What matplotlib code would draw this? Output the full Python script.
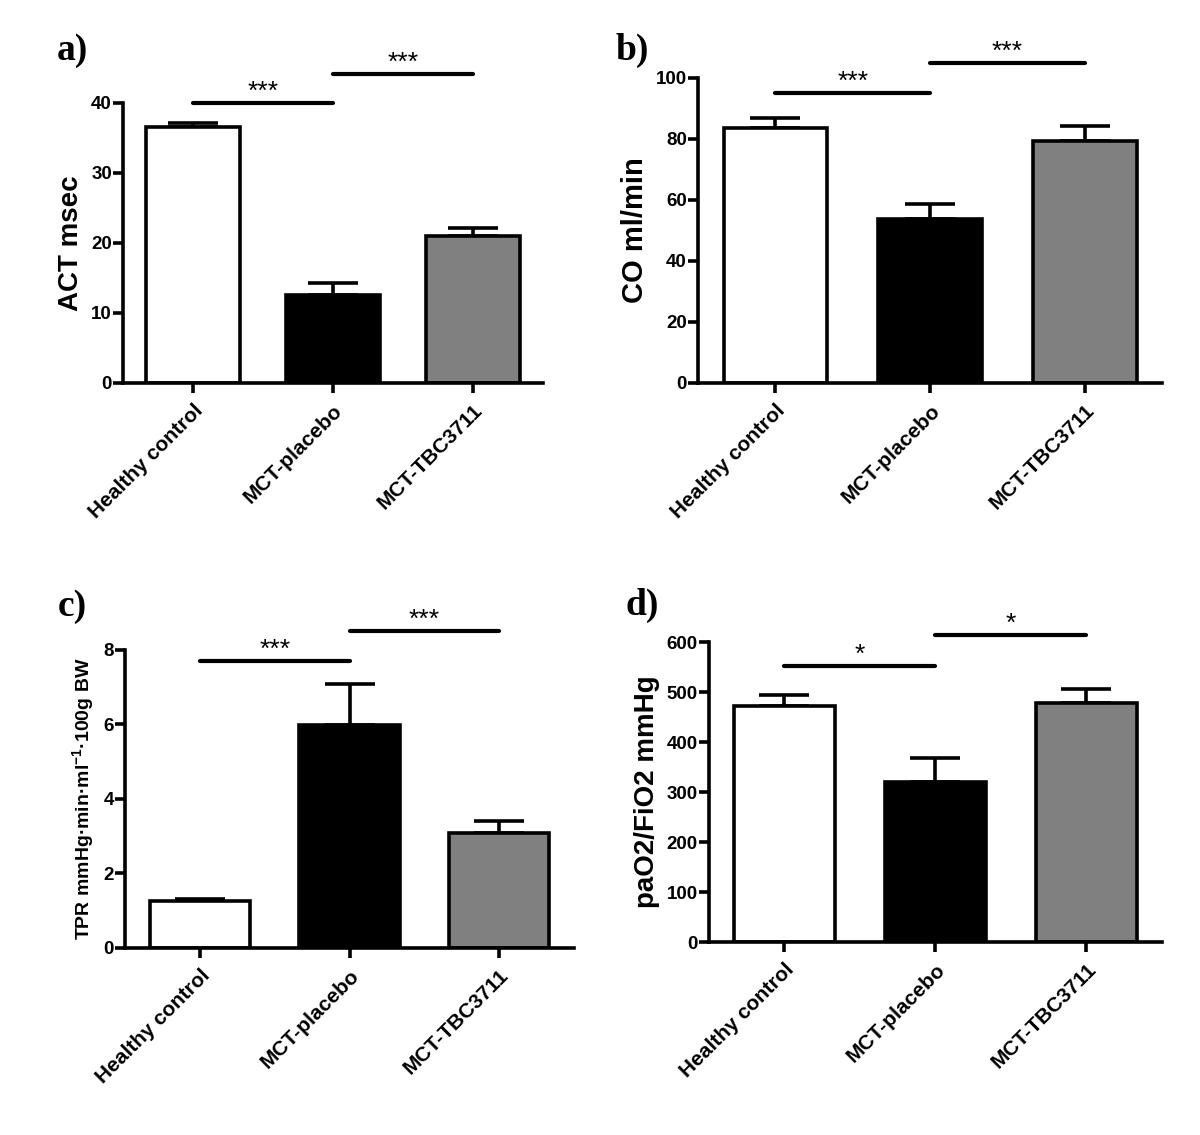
import matplotlib
matplotlib.use("Agg")
import matplotlib.pyplot as plt
import numpy as np

plt.rcParams['font.family'] = ['Liberation Sans', 'DejaVu Sans']
plt.rcParams['font.weight'] = 'bold'
plt.rcParams['mathtext.default'] = 'regular'

# ---- data ----
groups = ["Healthy control", "MCT-placebo", "MCT-TBC3711"]
bar_colors = ["white", "black", "#808080"]

act_mean = [36.5, 12.5, 21.0]
act_sem = [0.6, 1.8, 1.2]

co_mean = [83.5, 53.7, 79.3]
co_sem = [3.4, 4.8, 4.7]

tpr_mean = [1.25, 5.99, 3.08]
tpr_sem = [0.06, 1.10, 0.32]

pao2_mean = [472, 321, 478]
pao2_sem = [23, 48, 28]

# significance brackets: (group i, group j, height, label)
act_sig = [(0, 1, 40.0, "***"), (1, 2, 44.1, "***")]
co_sig = [(0, 1, 94.9, "***"), (1, 2, 104.8, "***")]
tpr_sig = [(0, 1, 7.71, "***"), (1, 2, 8.51, "***")]
pao2_sig = [(0, 1, 553, "*"), (1, 2, 615, "*")]

panels = [
    dict(rect=[0.1025, 0.6626, 0.350, 0.2467], mean=act_mean, sem=act_sem,
         sig=act_sig, ylim=40, yticks=[0, 10, 20, 30, 40], ylabel="ACT msec",
         ylsize=20, letter="a)", lpos=(72, 50)),
    dict(rect=[0.5817, 0.6626, 0.3867, 0.2691], mean=co_mean, sem=co_sem,
         sig=co_sig, ylim=100, yticks=[0, 20, 40, 60, 80, 100], ylabel="CO ml/min",
         ylsize=21, letter="b)", lpos=(632, 50)),
    dict(rect=[0.1042, 0.1648, 0.3742, 0.2626], mean=tpr_mean, sem=tpr_sem,
         sig=tpr_sig, ylim=8, yticks=[0, 2, 4, 6, 8],
         ylabel=r"TPR mmHg·min·ml$^{-1}$·100g BW",
         ylsize=14, letter="c)", lpos=(72, 607)),
    dict(rect=[0.5908, 0.1700, 0.3775, 0.2643], mean=pao2_mean, sem=pao2_sem,
         sig=pao2_sig, ylim=600, yticks=[0, 100, 200, 300, 400, 500, 600],
         ylabel="paO2/FiO2 mmHg", ylsize=20, letter="d)", lpos=(642, 605)),
]

W, H = 1200, 1135
fig = plt.figure(figsize=(W / 100, H / 100), dpi=100)

x = np.arange(len(groups))
lw = 2.6

for p in panels:
    ax = fig.add_axes(p["rect"])
    ax.bar(x, p["mean"], width=0.67, color=bar_colors, edgecolor="black",
           linewidth=lw, zorder=2)
    ax.errorbar(x, p["mean"], yerr=[np.zeros(len(x)), p["sem"]], fmt="none",
                ecolor="black", elinewidth=lw, capsize=18, capthick=lw, zorder=1)
    ax.set_xlim(-0.5, 2.5)
    ax.set_ylim(0, p["ylim"])
    ax.set_yticks(p["yticks"])
    ax.set_xticks(x)
    ax.set_xticklabels(groups, rotation=45, ha="right", rotation_mode="anchor",
                       fontsize=15, fontweight="bold")
    ax.tick_params(axis="y", labelsize=13.5, width=lw, length=7, pad=1,
                   direction="out")
    ax.tick_params(axis="x", width=lw, length=7, pad=6, direction="out")
    for lab in ax.get_yticklabels():
        lab.set_fontweight("bold")
    for s in ["top", "right"]:
        ax.spines[s].set_visible(False)
    for s in ["left", "bottom"]:
        ax.spines[s].set_linewidth(lw)
    ax.set_ylabel(p["ylabel"], fontsize=p["ylsize"], fontweight="bold",
                  labelpad=5)
    for (i, j, h, lab) in p["sig"]:
        ax.plot([x[i], x[j]], [h, h], color="black", lw=3.0, clip_on=False,
                solid_capstyle="round")
        ax.annotate(lab, xy=((x[i] + x[j]) / 2, h), xytext=(0, 3),
                    textcoords="offset points", ha="center", va="baseline",
                    fontsize=19, fontweight="normal", annotation_clip=False)
    fig.text(p["lpos"][0] / W, 1 - p["lpos"][1] / H, p["letter"],
             family="Liberation Serif", fontweight="bold", fontsize=27,
             ha="center", va="center")

fig.savefig("out.png", dpi=100)
